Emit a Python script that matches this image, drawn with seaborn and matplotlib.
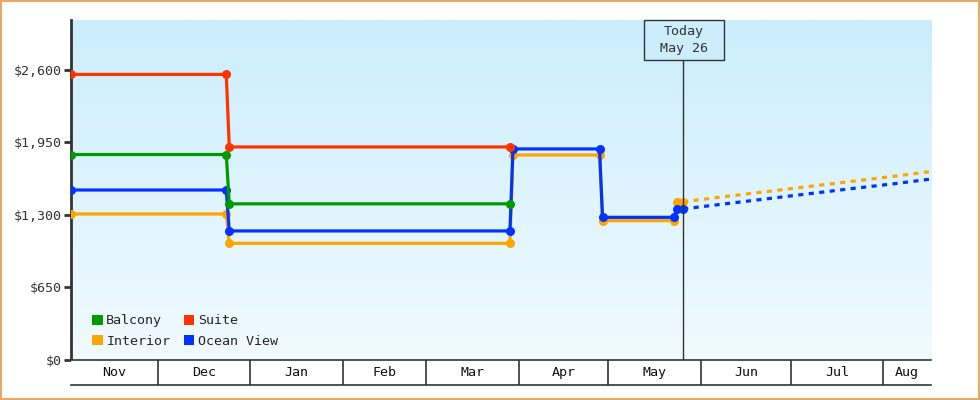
import numpy as np
import pandas as pd
import matplotlib
matplotlib.use("Agg")
import matplotlib.pyplot as plt
import matplotlib.dates as mdates
from matplotlib.patches import Rectangle
from matplotlib.colors import LinearSegmentedColormap
import seaborn as sns

# ---------------- data ----------------
series_names = ["Interior", "Ocean View", "Balcony", "Suite"]
colors = {"Balcony": "#009900", "Suite": "#ff3300", "Interior": "#ffa500", "Ocean View": "#0033ff"}

suite_dates = ["2024-11-02", "2024-12-24", "2024-12-25", "2025-03-29"]
suite_prices = [2560, 2560, 1910, 1910]

balcony_dates = ["2024-11-02", "2024-12-24", "2024-12-25", "2025-03-29"]
balcony_prices = [1842, 1842, 1400, 1400]

ocean_dates = ["2024-11-02", "2024-12-24", "2024-12-25", "2025-03-29", "2025-03-30",
               "2025-04-28", "2025-04-29", "2025-05-23", "2025-05-24", "2025-05-26"]
ocean_prices = [1524, 1524, 1157, 1157, 1892, 1892, 1279, 1279, 1354, 1354]

interior_dates = ["2024-11-02", "2024-12-24", "2024-12-25", "2025-03-29", "2025-03-30",
                  "2025-04-28", "2025-04-29", "2025-05-23", "2025-05-24", "2025-05-26"]
interior_prices = [1309, 1309, 1046, 1046, 1838, 1838, 1249, 1249, 1419, 1419]

forecast_dates = ["2025-05-26", "2025-06-09", "2025-06-23", "2025-07-07", "2025-07-21", "2025-08-04", "2025-08-17"]
ocean_forecast = [1354, 1400, 1445, 1490, 1535, 1578, 1622]
interior_forecast = [1419, 1465, 1510, 1555, 1600, 1645, 1690]

month_labels = ["Nov", "Dec", "Jan", "Feb", "Mar", "Apr", "May", "Jun", "Jul", "Aug"]
month_starts = ["2024-11-01", "2024-12-01", "2025-01-01", "2025-02-01", "2025-03-01",
                "2025-04-01", "2025-05-01", "2025-06-01", "2025-07-01", "2025-08-01"]
y_ticks = [0, 650, 1300, 1950, 2600]
today = "2025-05-26"
x_start, x_end = "2024-11-02", "2025-08-17"
y_max = 3048

actual = {
    "Interior": (interior_dates, interior_prices),
    "Ocean View": (ocean_dates, ocean_prices),
    "Balcony": (balcony_dates, balcony_prices),
    "Suite": (suite_dates, suite_prices),
}
forecast = {"Interior": interior_forecast, "Ocean View": ocean_forecast}

# ---------------- figure ----------------
sns.set_theme(style="white")
plt.rcParams["font.family"] = ["DejaVu Sans Mono"]
FS = 9.6
DARK = "#333333"

fig = plt.figure(figsize=(9.8, 4.0), dpi=100)
fig.patch.set_facecolor("white")
ax = fig.add_axes([71/980, 40/400, 860/980, 340/400])
axb = fig.add_axes([71/980, 15/400, 860/980, 25/400], sharex=ax)

# gradient background
cmap = LinearSegmentedColormap.from_list("bg", ["#f1faff", "#cbeefc"])
grad = np.linspace(0, 1, 256).reshape(-1, 1)
ax.imshow(grad, extent=[0, 1, 0, 1], transform=ax.transAxes, aspect="auto",
          cmap=cmap, origin="lower", zorder=0)

for i, name in enumerate(series_names):
    d, p = actual[name]
    df = pd.DataFrame({"date": pd.to_datetime(d), "price": p})
    sns.lineplot(data=df, x="date", y="price", ax=ax, color=colors[name], lw=2.3,
                 marker="o", markersize=6.5, markeredgewidth=0, estimator=None, sort=False,
                 legend=False, zorder=3 + i)
    if name in forecast:
        dff = pd.DataFrame({"date": pd.to_datetime(forecast_dates), "price": forecast[name]})
        sns.lineplot(data=dff, x="date", y="price", ax=ax, color=colors[name], lw=2.3,
                     estimator=None, sort=False, legend=False, zorder=3 + i)
        ax.lines[-1].set_dashes((1.6, 1.7))

ax.set_xlim(pd.Timestamp(x_start), pd.Timestamp(x_end))
ax.set_ylim(0, y_max)
ax.set_xlabel("")
ax.set_ylabel("")
ax.set_yticks(y_ticks)
ax.set_yticklabels([f"${v:,}" for v in y_ticks], fontsize=FS, color=DARK)
ax.tick_params(axis="y", which="both", left=True, length=5, width=2, color=DARK, pad=2)
ax.tick_params(axis="x", bottom=False, labelbottom=False)
for s in ["top", "right", "bottom"]:
    ax.spines[s].set_visible(False)
ax.spines["left"].set_color(DARK)
ax.spines["left"].set_linewidth(2)

# today marker
tdate = mdates.date2num(pd.Timestamp(today))
box_h = 40/340
ax.plot([tdate, tdate], [0, 1 - box_h], transform=ax.get_xaxis_transform(),
        color=DARK, lw=1, zorder=10)
x0 = mdates.date2num(pd.Timestamp(x_start))
x1 = mdates.date2num(pd.Timestamp(x_end))
half_w = 40 / (860 / (x1 - x0))
ax.add_patch(Rectangle((tdate - half_w + 0.3, 1 - box_h), 2 * half_w, box_h,
                       transform=ax.get_xaxis_transform(), facecolor="#ccedfb",
                       edgecolor=DARK, lw=1, zorder=11, clip_on=False))
ax.text(tdate + 0.3, 1 - box_h / 2, "Today\nMay 26", transform=ax.get_xaxis_transform(),
        ha="center", va="center", fontsize=FS, color=DARK, zorder=12, linespacing=1.35)

# legend
legend_order = ["Balcony", "Interior", "Suite", "Ocean View"]
handles = [Rectangle((0, 0), 1, 1, facecolor=colors[n], edgecolor="none") for n in legend_order]
ax.legend(handles, legend_order, ncol=2, loc="lower left", bbox_to_anchor=(0.014, 0.009),
          frameon=False, fontsize=FS, handlelength=0.8, handleheight=0.8, handletextpad=0.25,
          columnspacing=1.0, labelspacing=0.55, borderaxespad=0.3)

# month boxes
axb.set_facecolor("white")
axb.set_ylim(0, 1)
for s in ["left", "right"]:
    axb.spines[s].set_visible(False)
for s in ["top", "bottom"]:
    axb.spines[s].set_color(DARK)
    axb.spines[s].set_linewidth(1.2)
axb.tick_params(axis="both", bottom=False, left=False, labelbottom=False, labelleft=False)
starts = [mdates.date2num(pd.Timestamp(m)) for m in month_starts]
bounds = [max(s, x0) for s in starts] + [x1]
for i, lab in enumerate(month_labels):
    if starts[i] > x0:
        axb.axvline(starts[i], color=DARK, lw=1.2)
    mid = (bounds[i] + bounds[i + 1]) / 2
    axb.text(mid, 0.5, lab, ha="center", va="center", fontsize=FS, color="#111111")

# figure border
fig.add_artist(Rectangle((0.001, 0.002), 0.998, 0.996, transform=fig.transFigure,
                         fill=False, edgecolor="#e8a866", lw=1.5))

fig.savefig("out.png", dpi=100)
